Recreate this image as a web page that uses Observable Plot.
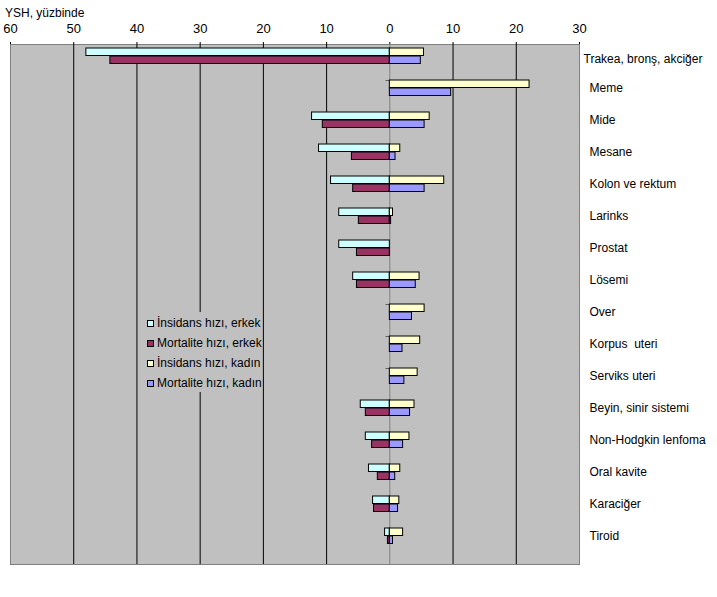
<!DOCTYPE html>
<html>
<head>
<meta charset="utf-8">
<script src="https://cdn.jsdelivr.net/npm/d3@7"></script>
<script src="https://cdn.jsdelivr.net/npm/@observablehq/plot@0.6"></script>
<style>
  body { margin: 0; background: #fff; font-family: "Liberation Sans", Arial, sans-serif; }
  #wrap { position: relative; width: 717px; height: 597px; }
  #title { position: absolute; left: 5px; top: 6px; font-size: 12px; line-height: 14px; color: #000; }
  #legend { position: absolute; left: 140px; top: 312px; width: 122px; height: 80px; background: #C0C0C0; }
  .row { position: absolute; left: 0; height: 20px; font-size: 12px; line-height: 20px; white-space: nowrap; color: #000; }
  .sw { position: absolute; left: 7px; top: 7px; width: 5px; height: 5px; border: 1px solid #000; }
  .lt { position: absolute; left: 17px; top: 0; }
</style>
</head>
<body>
<div id="wrap">
  <div id="chart"></div>
  <div id="title">YSH, yüzbinde</div>
  <div id="legend"></div>
</div>
<script>
const categories = ["Trakea, bronş, akciğer","Meme","Mide","Mesane","Kolon ve rektum","Larinks","Prostat","Lösemi","Over","Korpus  uteri","Serviks uteri","Beyin, sinir sistemi","Non-Hodgkin lenfoma","Oral kavite","Karaciğer","Tiroid"];
const incidenceMale   = [48.0, 0, 12.3, 11.2, 9.3, 8.0, 8.0, 5.8, 0, 0, 0, 4.6, 3.8, 3.3, 2.65, 0.75];
const mortalityMale   = [44.2, 0, 10.6, 6.0, 5.8, 4.9, 5.2, 5.2, 0, 0, 0, 3.8, 2.8, 1.9, 2.5, 0.3];
const incidenceFemale = [5.4, 22.1, 6.3, 1.65, 8.6, 0.5, 0, 4.7, 5.5, 4.8, 4.4, 3.9, 3.1, 1.65, 1.5, 2.1];
const mortalityFemale = [4.9, 9.7, 5.5, 0.9, 5.5, 0.2, 0, 4.1, 3.5, 2.0, 2.3, 3.2, 2.1, 0.85, 1.3, 0.5];
const seriesNames  = ["İnsidans hızı, erkek","Mortalite hızı, erkek","İnsidans hızı, kadın","Mortalite hızı, kadın"];
const seriesColors = ["#CCFFFF","#993366","#FFFFCC","#9999FF"];
const xTicks = [-60,-50,-40,-30,-20,-10,0,10,20,30];
const gridValues = [-50,-40,-30,-20,-10,10,20];

const rows = (vals, sign) => categories.map((c, i) => ({category: c, value: sign * vals[i]}));
const incM = rows(incidenceMale, -1), morM = rows(mortalityMale, -1);
const incF = rows(incidenceFemale, 1), morF = rows(mortalityFemale, 1);

const H = 597, mt = 44, mb = 33;
const bw = (H - mt - mb) / categories.length;
const barH = 8;

const chart = Plot.plot({
  width: 717,
  height: H,
  marginLeft: 10,
  marginRight: 138,
  marginTop: mt,
  marginBottom: mb,
  style: {fontFamily: "'Liberation Sans', Arial, sans-serif", fontSize: "13px", background: "transparent", color: "#000"},
  x: {domain: [-60, 30], axis: "top", ticks: xTicks, tickFormat: d => Math.abs(d), tickSize: 3, tickPadding: 9, line: true, label: null},
  y: {type: "band", domain: categories, padding: 0, axis: null},
  marks: [
    Plot.frame({fill: "#C0C0C0", stroke: "#808080"}),
    Plot.ruleX(gridValues, {stroke: "#000", strokeWidth: 1}),
    Plot.ruleX([0], {stroke: "#808080", strokeWidth: 1}),
    Plot.barX(categories, {y: d => d, x1: -0.6, x2: 0, fill: "#000", insetTop: 0, insetBottom: bw - 1}),
    Plot.barX(incM, {y: "category", x: "value", fill: seriesColors[0], stroke: "#000", insetTop: 0, insetBottom: bw - barH}),
    Plot.barX(incF, {y: "category", x: "value", fill: seriesColors[2], stroke: "#000", insetTop: 0, insetBottom: bw - barH}),
    Plot.barX(morM, {y: "category", x: "value", fill: seriesColors[1], stroke: "#000", insetTop: barH, insetBottom: bw - 2 * barH}),
    Plot.barX(morF, {y: "category", x: "value", fill: seriesColors[3], stroke: "#000", insetTop: barH, insetBottom: bw - 2 * barH}),
    Plot.text(categories.slice(0, 1), {y: d => d, text: d => d, frameAnchor: "right", textAnchor: "start", dx: 4, dy: -5, fontSize: 12, fill: "#000"}),
    Plot.text(categories.slice(1), {y: d => d, text: d => d, frameAnchor: "right", textAnchor: "start", dx: 10, dy: -8, fontSize: 12, fill: "#000"})
  ]
});
document.getElementById("chart").appendChild(chart);

const legend = document.getElementById("legend");
seriesNames.forEach((name, i) => {
  const r = document.createElement("div");
  r.className = "row";
  r.style.top = (i * 20 + 1) + "px";
  const sw = document.createElement("div");
  sw.className = "sw";
  sw.style.background = seriesColors[i];
  const t = document.createElement("div");
  t.className = "lt";
  t.textContent = name;
  r.appendChild(sw); r.appendChild(t);
  legend.appendChild(r);
});
</script>
</body>
</html>
